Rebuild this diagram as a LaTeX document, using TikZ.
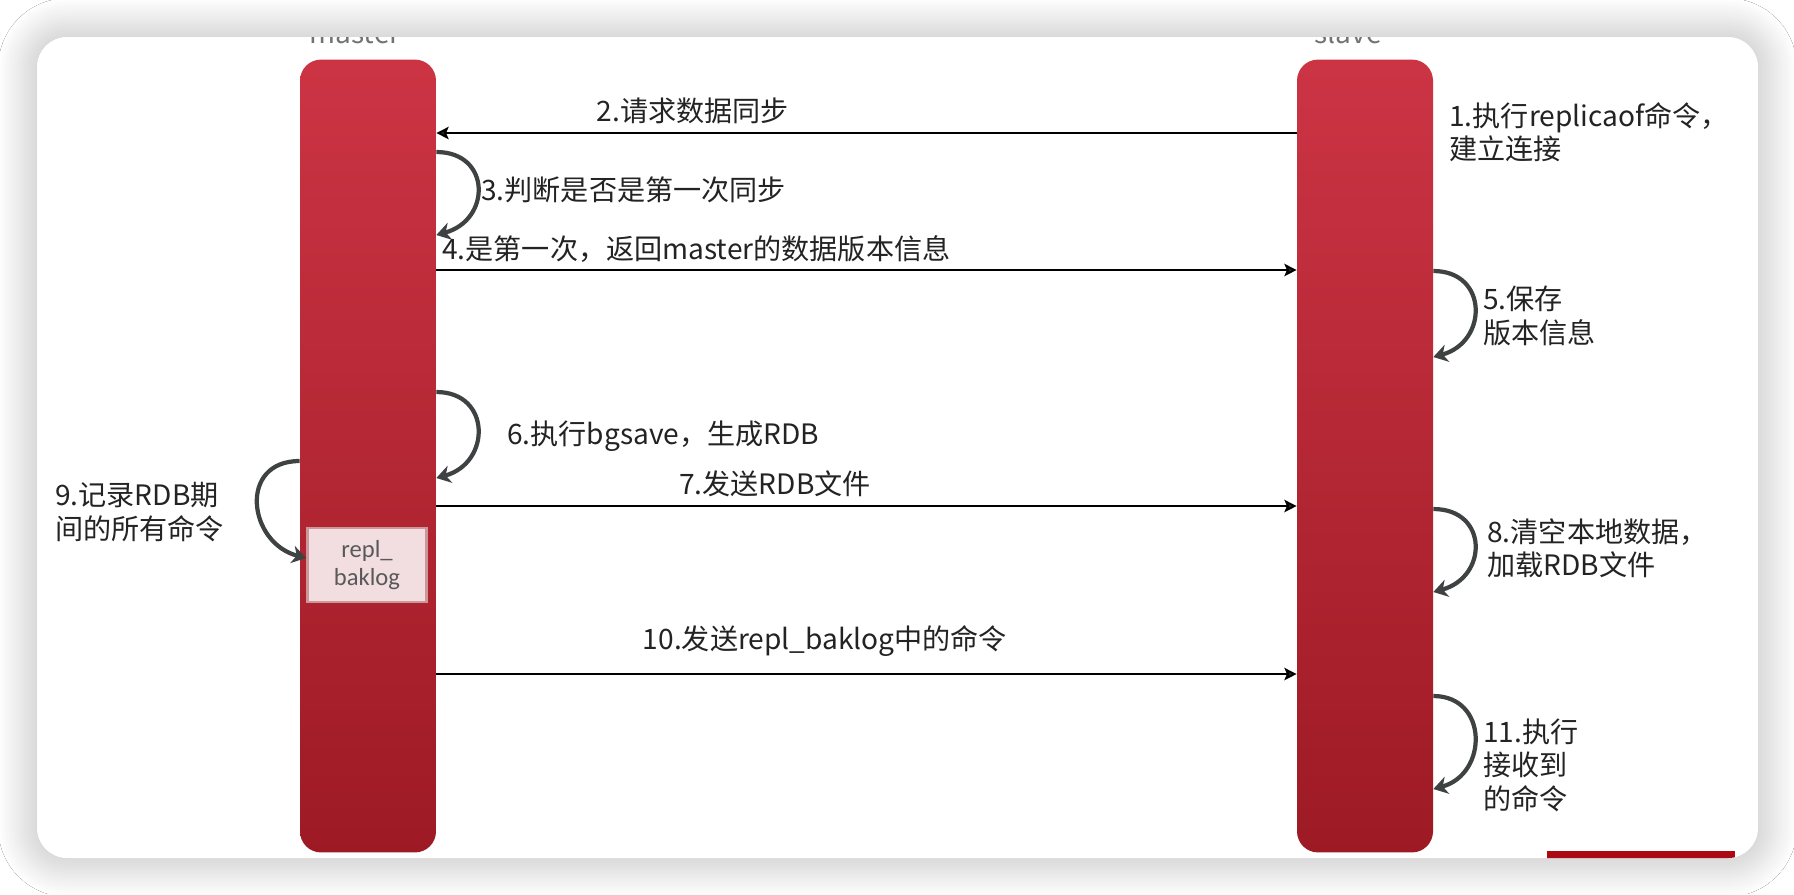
\documentclass[tikz,border=0pt]{standalone}
\usepackage{fontspec}
\setmainfont{Noto Sans CJK SC}
\newfontfamily\boxfont{Carlito}
\usetikzlibrary{arrows.meta,shadows.blur}
\definecolor{bartop}{RGB}{204,52,68}
\definecolor{barbot}{RGB}{157,26,36}
\definecolor{loopcol}{RGB}{62,66,66}
\definecolor{txtcol}{RGB}{35,35,35}
\definecolor{actorcol}{RGB}{115,115,115}
\definecolor{replfill}{RGB}{242,222,224}
\definecolor{repledge}{RGB}{205,150,155}
\definecolor{markred}{RGB}{170,10,20}

\begin{document}
\begin{tikzpicture}[x=0.02cm,y=-0.02cm,
  bar/.style={rounded corners=0.42cm,top color=bartop,bottom color=barbot,minimum width=2.72cm,minimum height=15.86cm,inner sep=0},
  msg/.style={line width=1.1pt,-{Stealth[length=7pt,width=7pt,inset=1.5pt]}},
  selfloop/.style={loopcol,line width=2.4pt,-{Stealth[length=8pt,width=10pt,inset=2.5pt]}},
  lbl/.style={font=\fontsize{16}{19}\selectfont,text=txtcol,inner sep=0,align=left},
  actor/.style={font=\fontsize{16}{19}\selectfont,text=actorcol,inner sep=0}]
\useasboundingbox (0,0) rectangle (1794,894);
\fill[white] (0,0) rectangle (1794,894);
% card
\fill[white,rounded corners=0.6cm,blur shadow={shadow xshift=0pt,shadow yshift=0pt,shadow blur radius=22pt,shadow blur steps=20,shadow opacity=30}] (37,37) rectangle (1758,858);
\begin{scope}
\clip[rounded corners=0.6cm] (37,37) rectangle (1758,858);
\node[actor,anchor=base] (mname) at (355,43) {master};
\node[actor,anchor=base] (sname) at (1348,43) {slave};
\fill[markred] (1547,851) rectangle (1735,860);
\end{scope}
% the two bars
\node[bar] (master) at (368,456) {};
\node[bar] (slave) at (1365,456) {};
\node[draw=repledge,line width=1.5pt,fill=replfill,minimum width=2.38cm,minimum height=1.48cm,inner sep=0,align=center,font=\boxfont\fontsize{14}{16}\selectfont,text=black!65] (repl) at (367,565) {repl\_\\baklog};
% messages
\draw[msg] (slave.west |- 0,133) -- (master.east |- 0,133);
\foreach \y in {270,506,674} \draw[msg] (master.east |- 0,\y) -- (slave.west |- 0,\y);
% self loops
\foreach \a/\b in {152/235,392/478} \draw[selfloop] (master.east |- 0,\a) .. controls +(55,0) and +(55,-15) .. (master.east |- 0,\b);
\foreach \a/\b in {271/357,509/592,696/789} \draw[selfloop] (slave.east |- 0,\a) .. controls +(55,0) and +(55,-15) .. (slave.east |- 0,\b);
\draw[selfloop] (master.west |- 0,461) .. controls +(-62,0) and +(-58,-15) .. (repl.west |- 0,558);
% labels
\node[lbl,anchor=west] (l1) at (1449,132) {1.执行replicaof命令，\\建立连接};
\node[lbl] (l2) at (693,111) {2.请求数据同步};
\node[lbl,anchor=west] (l3) at (481,190) {3.判断是否是第一次同步};
\node[lbl,anchor=west] (l4) at (442,249) {4.是第一次，返回master的数据版本信息};
\node[lbl,anchor=west] (l5) at (1483,316) {5.保存\\版本信息};
\node[lbl,anchor=west] (l6) at (507,436) {6.执行bgsave，生成RDB};
\node[lbl] (l7) at (775,484) {7.发送RDB文件};
\node[lbl,anchor=west] (l8) at (1487,548) {8.清空本地数据，\\加载RDB文件};
\node[lbl,anchor=west] (l9) at (55,512) {9.记录RDB期\\间的所有命令};
\node[lbl] (l10) at (825,641) {10.发送repl\_baklog中的命令};
\node[lbl,anchor=west] (l11) at (1483,765) {11.执行\\接收到\\的命令};
\end{tikzpicture}
\end{document}
